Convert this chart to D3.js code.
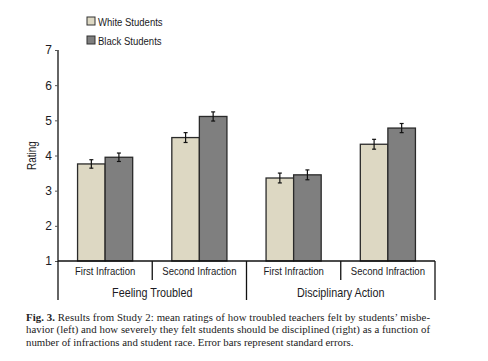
<!DOCTYPE html>
<html>
<head>
<meta charset="utf-8">
<script src="https://cdn.jsdelivr.net/npm/d3@7"></script>
<style>
  body { margin: 0; background: #fff; }
  svg { display: block; }
  .lbl { font-family: "Liberation Sans", Arial, sans-serif; fill: #1b1b24; }
  .cap { font-family: "Liberation Serif", "DejaVu Serif", serif; font-size: 10.8px; fill: #222; }
</style>
</head>
<body>
<div id="chart"></div>
<script>
// chart data
const groups = ["Feeling Troubled", "Disciplinary Action"];
const infractions = ["First Infraction", "Second Infraction"];
const series = ["White Students", "Black Students"];
const whiteMeans = [3.76, 4.51, 3.36, 4.32];
const blackMeans = [3.95, 5.11, 3.45, 4.78];
const whiteErr = [0.12, 0.14, 0.14, 0.14];
const blackErr = [0.12, 0.13, 0.14, 0.13];
const yTicks = [1, 2, 3, 4, 5, 6, 7];
const captionLines = [
  "Results from Study 2: mean ratings of how troubled teachers felt by students\u2019 misbe-",
  "havior (left) and how severely they felt students should be disciplined (right) as a function of",
  "number of infractions and student race. Error bars represent standard errors."
];

const colors = ["#ddd8c3", "#7f7f7f"];
const narrow = 0.83; // squeeze for the condensed sans used in the figure

const width = 488, height = 361;
const margin = { left: 58, right: 53, top: 50, bottom: 100 };

const svg = d3.select("#chart").append("svg")
  .attr("width", width).attr("height", height);

// one row per bar cluster
let cells = [];
groups.forEach((g, gi) => {
  infractions.forEach((inf, ii) => {
    let k = gi * 2 + ii;
    cells.push({
      key: g + "|" + inf, group: g, infraction: inf,
      bars: [
        { s: series[0], v: whiteMeans[k], e: whiteErr[k] },
        { s: series[1], v: blackMeans[k], e: blackErr[k] }
      ]
    });
  });
});

const x = d3.scaleBand()
  .domain(cells.map(d => d.key))
  .range([margin.left, width - margin.right])
  .paddingInner(0).paddingOuter(0);

const xInner = d3.scaleBand()
  .domain(series)
  .range([0, x.bandwidth()])
  .paddingOuter(0.71).paddingInner(0);

const y = d3.scaleLinear()
  .domain([1, 7])
  .range([height - margin.bottom, margin.top]);

const y0 = y(1);

// bars
const cellG = svg.selectAll("g.cell")
  .data(cells)
  .enter().append("g")
  .attr("class", "cell")
  .attr("transform", d => `translate(${x(d.key)},0)`);

cellG.selectAll("rect")
  .data(d => d.bars)
  .enter().append("rect")
  .attr("x", d => xInner(d.s))
  .attr("y", d => y(d.v))
  .attr("width", xInner.bandwidth())
  .attr("height", d => y0 - y(d.v))
  .attr("fill", (d, i) => colors[i])
  .attr("stroke", "#2a2a2a")
  .attr("stroke-width", 1.3);

// error bars
const errG = cellG.selectAll("g.err")
  .data(d => d.bars)
  .enter().append("g")
  .attr("class", "err")
  .attr("transform", d => `translate(${xInner(d.s) + xInner.bandwidth() / 2},0)`)
  .attr("stroke", "#111").attr("stroke-width", 1.2);

errG.append("line")
  .attr("y1", d => y(d.v + d.e)).attr("y2", d => y(d.v - d.e));
errG.append("line")
  .attr("x1", -2).attr("x2", 2)
  .attr("y1", d => y(d.v + d.e)).attr("y2", d => y(d.v + d.e));
errG.append("line")
  .attr("x1", -2).attr("x2", 2)
  .attr("y1", d => y(d.v - d.e)).attr("y2", d => y(d.v - d.e));

// y axis
const yAxis = d3.axisLeft(y).tickValues(yTicks).tickFormat(d3.format("d")).tickSize(3).tickPadding(3);
const yg = svg.append("g")
  .attr("transform", `translate(${margin.left},0)`)
  .call(yAxis);
yg.select(".domain").attr("d", `M0,${y(7)}V${y0}`).attr("stroke", "#111").attr("stroke-width", 1.3);
yg.selectAll(".tick line").attr("stroke", "#555");
yg.selectAll(".tick text").attr("class", "lbl").style("font-size", "12px");

svg.append("text")
  .attr("class", "lbl")
  .attr("transform", `translate(${margin.left - 22},${y(4)}) rotate(-90) scale(${narrow},1)`)
  .attr("text-anchor", "middle")
  .style("font-size", "12px")
  .text("Rating");

// x axis baseline
const xr = x.range();
svg.append("line")
  .attr("x1", xr[0]).attr("x2", xr[1])
  .attr("y1", y0).attr("y2", y0)
  .attr("stroke", "#111").attr("stroke-width", 1.5);

// divider ticks: short between infractions, long between groups
const rowBottom = y0 + 19;
const groupBottom = y0 + 39;
let edges = cells.map(d => x(d.key)).concat([xr[1]]);
svg.selectAll("line.div")
  .data(edges)
  .enter().append("line")
  .attr("class", "div")
  .attr("x1", d => d).attr("x2", d => d)
  .attr("y1", y0)
  .attr("y2", (d, i) => (i % 2 === 0) ? groupBottom : rowBottom)
  .attr("stroke", "#111").attr("stroke-width", 1.3);

// infraction labels
svg.selectAll("text.inf")
  .data(cells)
  .enter().append("text")
  .attr("class", "lbl")
  .attr("transform", d => `translate(${x(d.key) + x.bandwidth() / 2},${y0 + 14}) scale(${narrow},1)`)
  .attr("text-anchor", "middle")
  .style("font-size", "11.5px")
  .text(d => d.infraction);

// group labels
svg.selectAll("text.grp")
  .data(groups)
  .enter().append("text")
  .attr("class", "lbl")
  .attr("transform", g => `translate(${x(g + "|" + infractions[0]) + x.bandwidth()},${y0 + 35.5}) scale(${narrow},1)`)
  .attr("text-anchor", "middle")
  .style("font-size", "13px")
  .text(g => g);

// legend
const leg = svg.selectAll("g.leg")
  .data(series)
  .enter().append("g")
  .attr("class", "leg")
  .attr("transform", (d, i) => `translate(87,${17 + i * 19})`);
leg.append("rect")
  .attr("width", 8).attr("height", 8)
  .attr("fill", (d, i) => colors[i])
  .attr("stroke", "#333").attr("stroke-width", 1);
leg.append("text")
  .attr("class", "lbl")
  .attr("transform", `translate(11,8.5) scale(${narrow},1)`)
  .style("font-size", "11.5px")
  .text(d => d);

// caption
const cap = svg.append("g");
captionLines.forEach((line, i) => {
  const t = cap.append("text")
    .attr("class", "cap")
    .attr("x", 26)
    .attr("y", 321 + i * 12.3);
  if (i === 0) {
    t.append("tspan").attr("font-weight", "bold").text("Fig. 3. ");
  }
  t.append("tspan").text(line);
  if (i < 2) {
    t.attr("textLength", 404).attr("lengthAdjust", "spacing");
  }
});
</script>
</body>
</html>
